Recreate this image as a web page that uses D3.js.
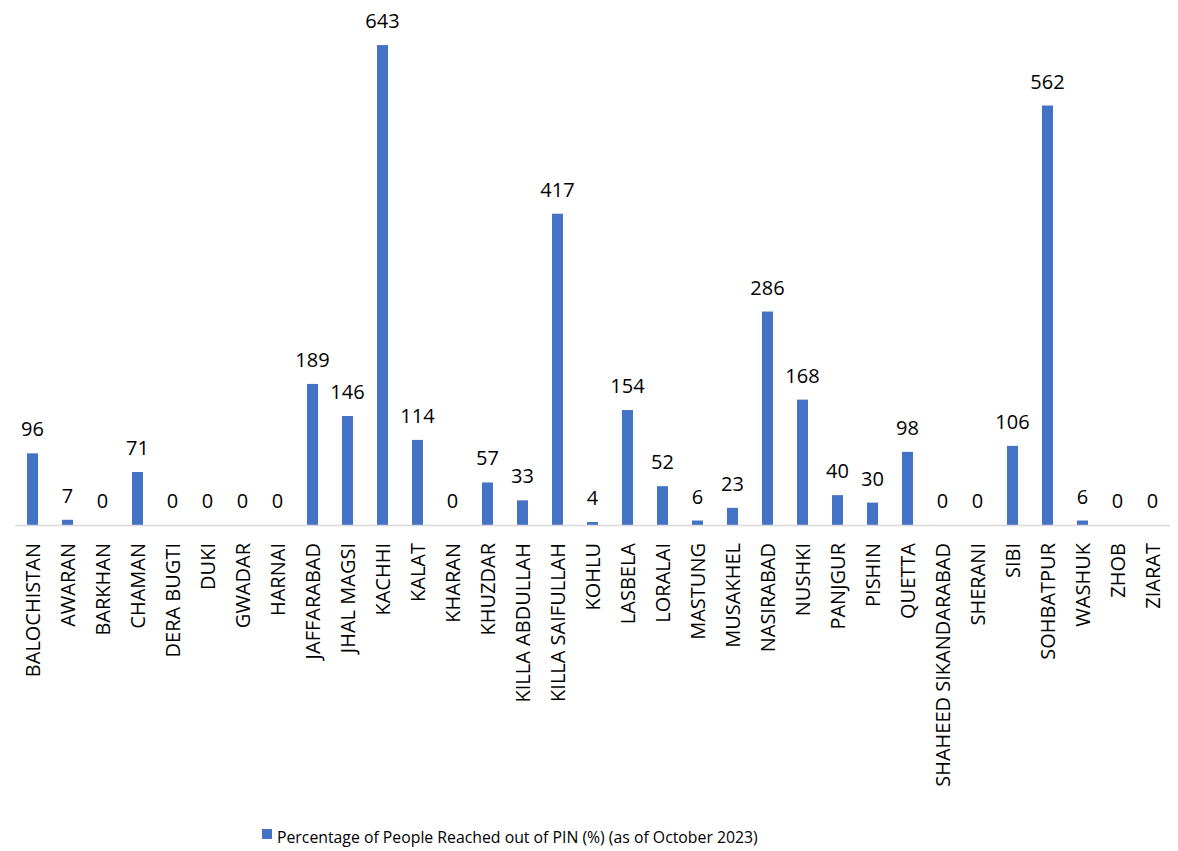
<!DOCTYPE html>
<html>
<head>
<meta charset="utf-8">
<script src="https://cdn.jsdelivr.net/npm/d3@7"></script>
<style>
  html, body { margin: 0; padding: 0; background: #ffffff; }
  svg { display: block; }
  text { font-family: "Open Sans", Lato, sans-serif; fill: #000; }
</style>
</head>
<body>
<svg id="chart" width="1178" height="851"></svg>
<script>
const categories = ["BALOCHISTAN","AWARAN","BARKHAN","CHAMAN","DERA BUGTI","DUKI","GWADAR","HARNAI","JAFFARABAD","JHAL MAGSI","KACHHI","KALAT","KHARAN","KHUZDAR","KILLA ABDULLAH","KILLA SAIFULLAH","KOHLU","LASBELA","LORALAI","MASTUNG","MUSAKHEL","NASIRABAD","NUSHKI","PANJGUR","PISHIN","QUETTA","SHAHEED SIKANDARABAD","SHERANI","SIBI","SOHBATPUR","WASHUK","ZHOB","ZIARAT"];
const values = [96,7,0,71,0,0,0,0,189,146,643,114,0,57,33,417,4,154,52,6,23,286,168,40,30,98,0,0,106,562,6,0,0];
const seriesName = "Percentage of People Reached out of PIN (%) (as of October 2023)";

const svg = d3.select("#chart");
const color = "#4472C4";
const baseY = 525;

const x = d3.scaleBand().domain(categories).range([15, 1170]).paddingInner(0.686).paddingOuter(0.343);
const y = d3.scaleLinear().domain([0, 700]).range([baseY, 2.5]);

const data = categories.map((c, i) => ({c, v: values[i]}));

svg.append("g").selectAll("rect").data(data).join("rect")
  .attr("x", d => x(d.c))
  .attr("width", x.bandwidth())
  .attr("y", d => y(d.v))
  .attr("height", d => baseY - y(d.v))
  .attr("fill", color);

svg.append("line")
  .attr("x1", 15).attr("x2", 1170)
  .attr("y1", baseY + 0.5).attr("y2", baseY + 0.5)
  .attr("stroke", "#d9d9d9").attr("stroke-width", 1.3);

svg.append("g").selectAll("text").data(data).join("text")
  .attr("x", d => x(d.c) + x.bandwidth() / 2)
  .attr("y", d => y(d.v) - 17)
  .attr("text-anchor", "middle")
  .style("font-size", "20px")
  .text(d => d.v);

svg.append("g").selectAll("text").data(data).join("text")
  .attr("transform", d => `translate(${x(d.c) + x.bandwidth() / 2},543) rotate(-90)`)
  .attr("text-anchor", "end")
  .attr("dy", "0.36em")
  .style("font-size", "20px")
  .text(d => d.c);

const lg = svg.append("g");
lg.append("rect").attr("x", 262).attr("y", 829).attr("width", 10).attr("height", 10).attr("fill", color);
lg.append("text").attr("x", 277).attr("y", 843).style("font-size", "15.8px").text(seriesName);
</script>
</body>
</html>
